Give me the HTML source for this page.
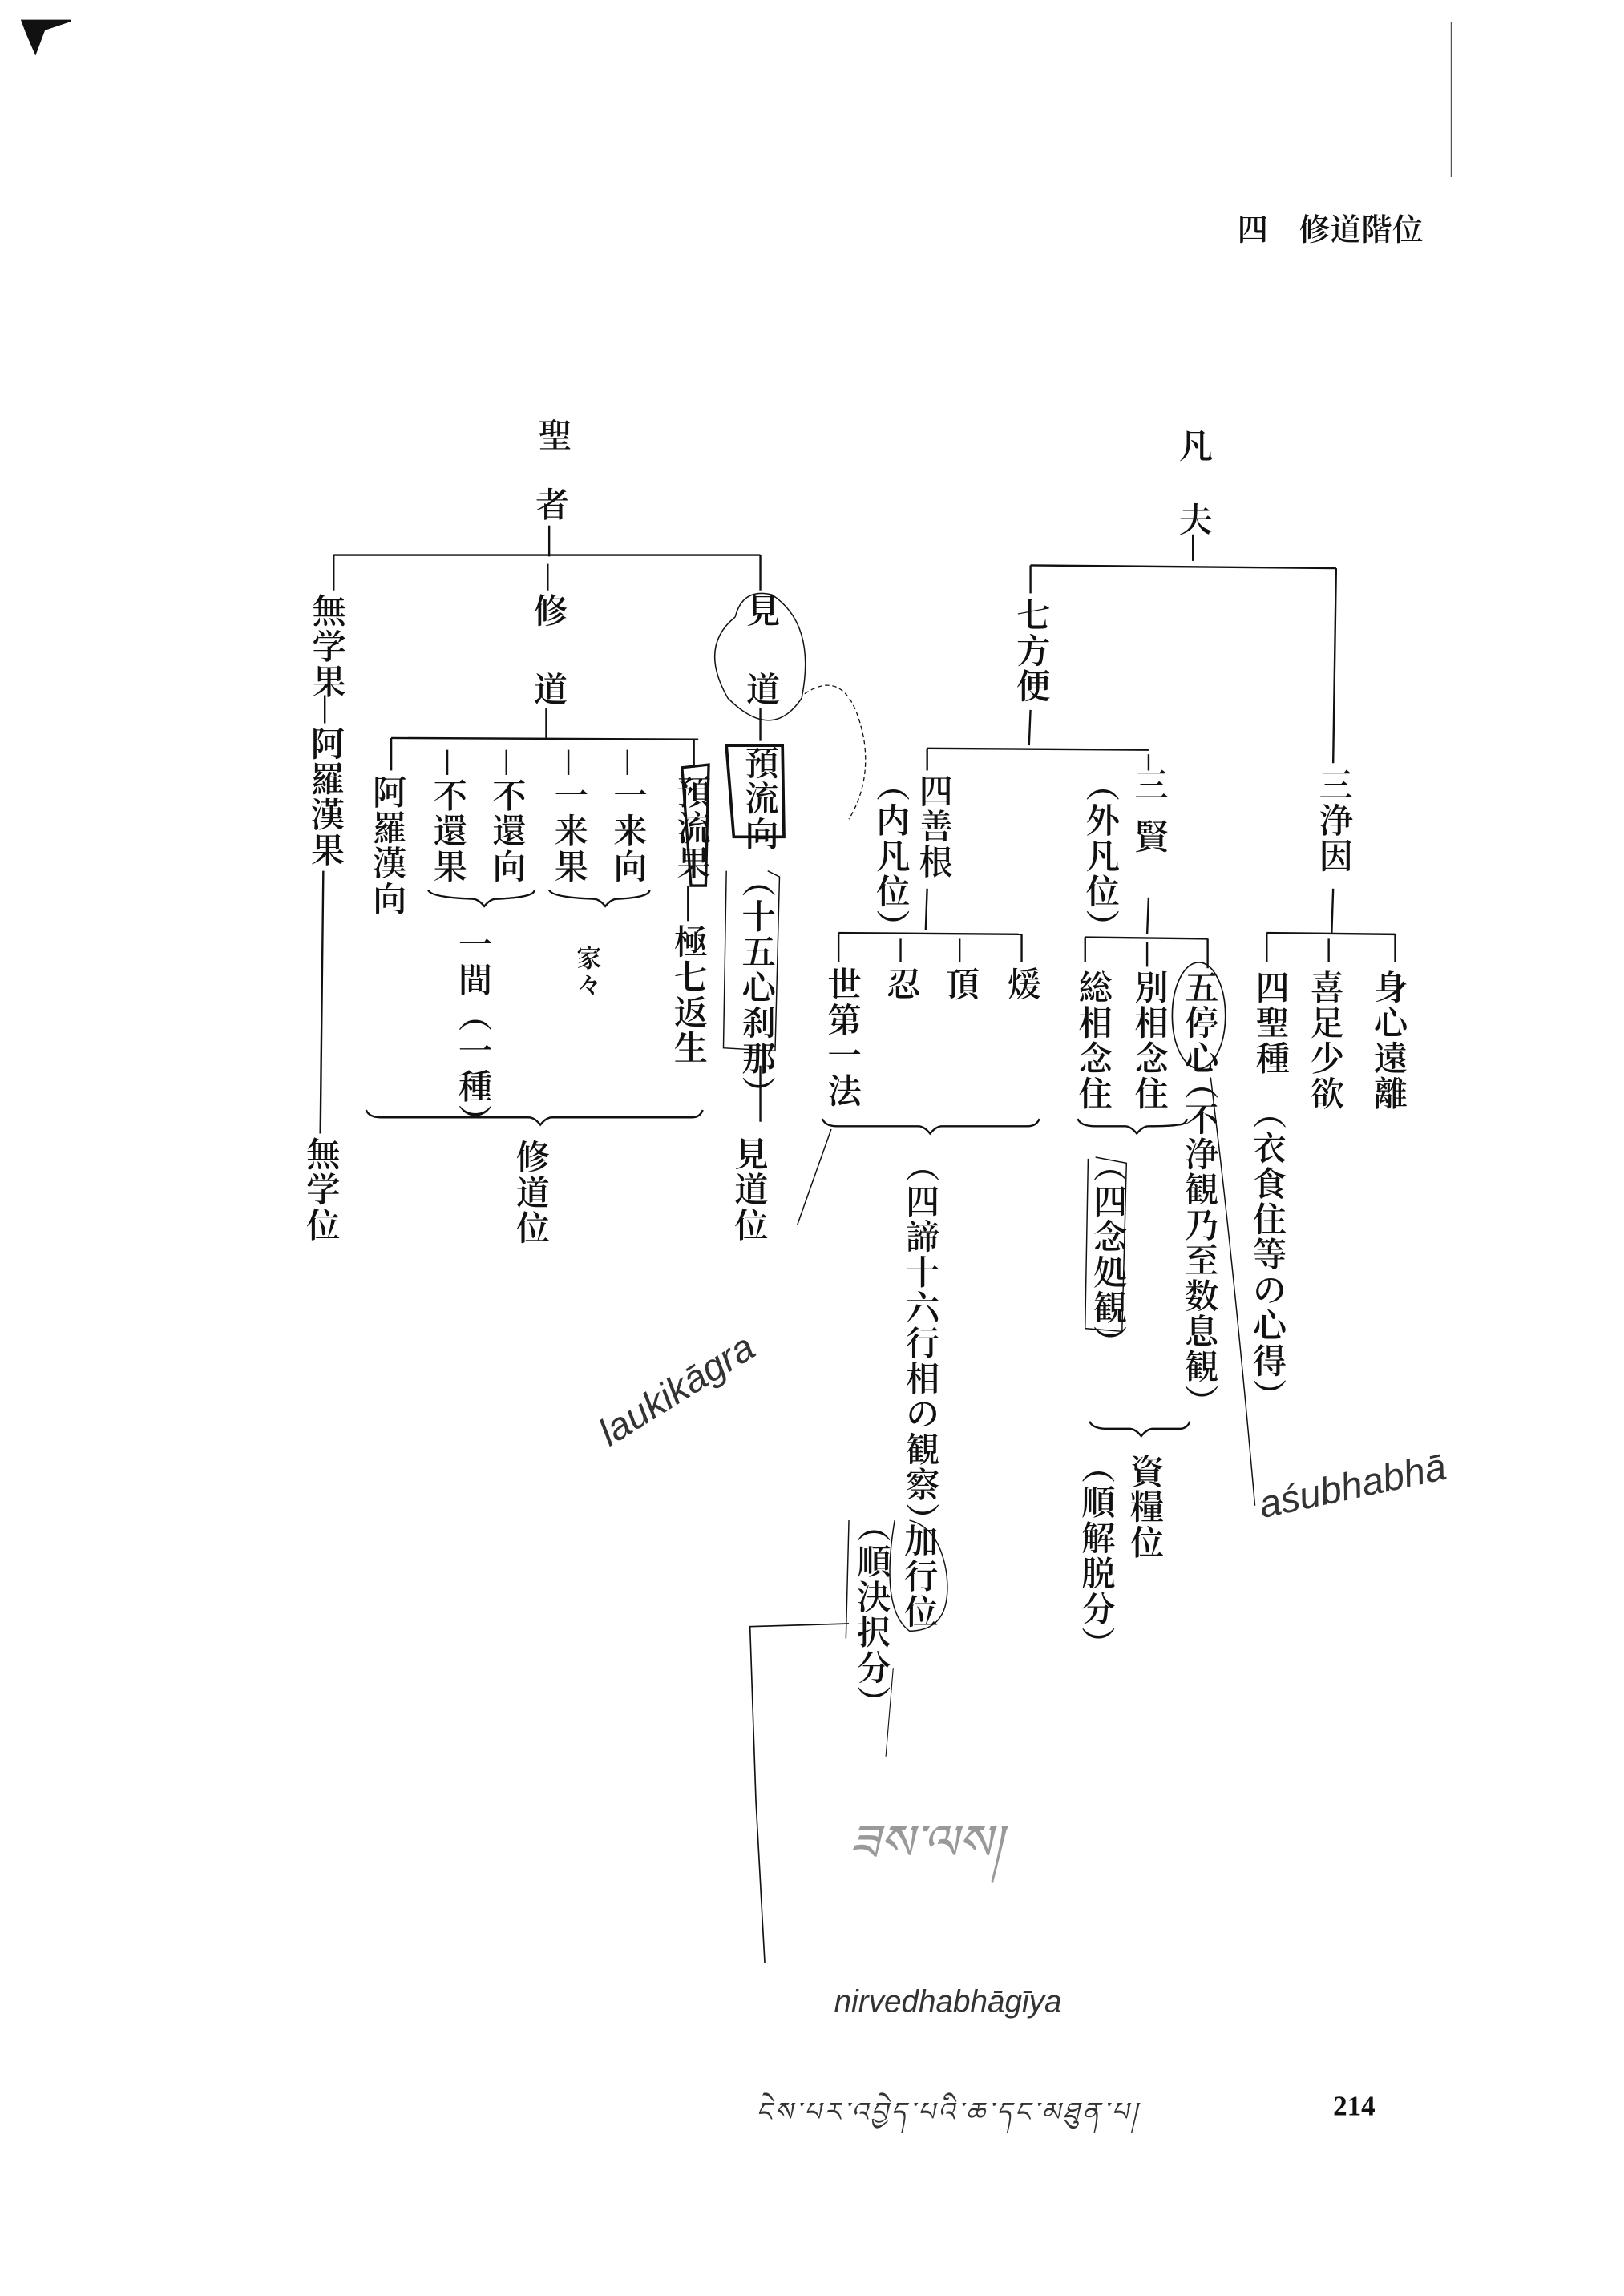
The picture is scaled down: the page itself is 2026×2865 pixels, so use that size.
<!DOCTYPE html>
<html><head><meta charset="utf-8"><style>
html,body{margin:0;padding:0;background:#fff;}
body{width:2026px;height:2865px;overflow:hidden;position:relative;}
#s{position:absolute;left:0;top:0;width:1100px;height:1555px;transform:scale(1.84182);transform-origin:0 0;font-family:"Liberation Serif","Noto Serif CJK SC",serif;color:#111;}
.v{position:absolute;writing-mode:vertical-rl;font-size:23px;line-height:1;letter-spacing:1px;transform:translateX(-50%);white-space:nowrap;font-weight:600;}
.h{position:absolute;font-size:21px;line-height:1;white-space:nowrap;font-weight:600;}
.w{position:absolute;font-family:"Liberation Sans",sans-serif;font-style:italic;color:#333;white-space:nowrap;font-weight:300;}
svg{position:absolute;left:0;top:0;}
</style></head><body><div id="s">
<svg width="1100" height="1555" viewBox="0 0 1100 1555" fill="none" stroke="#111" stroke-width="1.3">
<path d="M15 14 L48 14 L30 20 L24 36 L18 22 Z" fill="#111"/>
<line x1="983" y1="15" x2="983" y2="120" stroke-width="0.8" stroke="#555"/>
<line x1="372" y1="356" x2="372" y2="377"/>
<line x1="226" y1="376" x2="515" y2="376"/>
<line x1="226" y1="376" x2="226" y2="400"/>
<line x1="371" y1="382" x2="371" y2="400"/>
<line x1="515" y1="376" x2="515" y2="400"/>
<line x1="220" y1="471" x2="220" y2="490"/>
<line x1="219" y1="590" x2="217" y2="768"/>
<line x1="370" y1="480" x2="370" y2="500"/>
<line x1="265" y1="500" x2="473" y2="501"/>
<line x1="265" y1="500" x2="265" y2="522"/>
<line x1="303" y1="508" x2="303" y2="525"/>
<line x1="343" y1="508" x2="343" y2="525"/>
<line x1="385" y1="508" x2="385" y2="525"/>
<line x1="425" y1="508" x2="425" y2="525"/>
<line x1="470" y1="501" x2="470" y2="520"/>
<path d="M290 603 q2 5 30 6 q4 0 8 5 q4 -5 8 -5 q26 -1 26 -6"/>
<path d="M372 603 q2 5 30 6 q4 0 8 5 q4 -5 8 -5 q22 -1 22 -6"/>
<line x1="466" y1="600" x2="466" y2="624"/>
<path d="M248 752 q2 5 10 5 q90 0 100 0 q4 0 8 5 q4 -5 8 -5 q90 0 95 0 q5 0 7 -5"/>
<line x1="515" y1="480" x2="515" y2="502"/>
<path d="M492 505 L530 505 L531 567 L497 567 Z" stroke-width="2"/>
<path d="M462 520 L480 518 L478 600 L468 600 Z" stroke-width="1.8"/>
<path d="M498 418 q-25 20 -5 55 q30 30 50 0 q10 -50 -20 -70 q-20 -5 -25 15" stroke-width="0.8"/>
<path d="M545 470 q30 -20 40 30 q5 30 -10 55" stroke-width="0.7" stroke-dasharray="3 2"/>
<path d="M492 590 L490 710 L525 712 L528 594 L520 590" stroke-width="0.8"/>
<line x1="515" y1="722" x2="515" y2="760"/>
<line x1="808" y1="362" x2="808" y2="380"/>
<line x1="698" y1="383" x2="905" y2="385"/>
<line x1="698" y1="383" x2="698" y2="402"/>
<line x1="698" y1="481" x2="697" y2="505"/>
<line x1="628" y1="507" x2="778" y2="508"/>
<line x1="628" y1="507" x2="628" y2="522"/>
<line x1="778" y1="511" x2="778" y2="522"/>
<line x1="628" y1="602" x2="627" y2="630"/>
<line x1="568" y1="632" x2="692" y2="633"/>
<line x1="568" y1="632" x2="568" y2="652"/>
<line x1="610" y1="636" x2="610" y2="652"/>
<line x1="650" y1="636" x2="650" y2="652"/>
<line x1="692" y1="633" x2="692" y2="652"/>
<line x1="778" y1="608" x2="777" y2="633"/>
<line x1="735" y1="635" x2="818" y2="636"/>
<line x1="735" y1="635" x2="735" y2="652"/>
<line x1="777" y1="638" x2="777" y2="655"/>
<line x1="818" y1="636" x2="818" y2="656"/>
<line x1="905" y1="385" x2="903" y2="517"/>
<line x1="903" y1="602" x2="902" y2="632"/>
<line x1="858" y1="632" x2="945" y2="633"/>
<line x1="858" y1="632" x2="858" y2="652"/>
<line x1="900" y1="636" x2="900" y2="652"/>
<line x1="945" y1="633" x2="945" y2="652"/>
<path d="M557 758 q2 5 10 5 q50 0 55 0 q4 0 8 5 q4 -5 8 -5 q50 0 58 0 q6 0 8 -5"/>
<path d="M730 758 q2 5 12 5 q15 0 20 0 q4 0 8 5 q4 -5 8 -5 q15 0 20 -1 q5 0 6 -4"/>
<path d="M738 963 q2 5 12 5 q10 0 15 0 q4 0 8 5 q4 -5 8 -5 q12 0 18 0 q5 0 7 -5"/>
<ellipse cx="812" cy="688" rx="18" ry="36" stroke-width="0.9"/>
<path d="M737 785 L735 900 L760 902 L763 788 L742 784" stroke-width="0.8"/>
<path d="M820 730 q15 120 30 290" stroke-width="0.8"/>
<path d="M606 1030 q-10 60 10 75 q30 0 25 -40 q-5 -30 -25 -35" stroke-width="0.8"/>
<path d="M575 1030 L573 1110" stroke-width="0.8"/>
<path d="M563 765 L540 830" stroke-width="0.8"/>
<path d="M575 1100 L508 1102 L512 1220 L518 1330" stroke-width="0.9"/>
<path d="M605 1130 L600 1190" stroke-width="0.6"/>
</svg>
<div class="h" style="left:838px;top:146px;">四　修道階位</div>
<div class="v" style="left:374px;top:283px;">聖</div>
<div class="v" style="left:372px;top:330px;">者</div>
<div class="v" style="left:221px;top:402px;">無学果</div>
<div class="v" style="left:220px;top:492px;">阿羅漢果</div>
<div class="v" style="left:217px;top:770px;">無学位</div>
<div class="v" style="left:371px;top:402px;">修</div>
<div class="v" style="left:371px;top:455px;">道</div>
<div class="v" style="left:262px;top:525px;">阿羅漢向</div>
<div class="v" style="left:303px;top:527px;">不還果</div>
<div class="v" style="left:343px;top:527px;">不還向</div>
<div class="v" style="left:385px;top:527px;">一来果</div>
<div class="v" style="left:425px;top:527px;">一来向</div>
<div class="v" style="left:468px;top:525px;">預流果</div>
<div class="v" style="left:320px;top:628px;">一間（一種）</div>
<div class="v" style="left:397px;top:640px;font-size:17px;">家々</div>
<div class="v" style="left:466px;top:626px;">極七返生</div>
<div class="v" style="left:359px;top:772px;">修道位</div>
<div class="v" style="left:515px;top:402px;">見</div>
<div class="v" style="left:515px;top:455px;">道</div>
<div class="v" style="left:514px;top:505px;">預流向</div>
<div class="v" style="left:512px;top:585px;">（十五心刹那）</div>
<div class="v" style="left:507px;top:770px;">見道位</div>
<div class="v" style="left:808px;top:290px;">凡</div>
<div class="v" style="left:808px;top:340px;">夫</div>
<div class="v" style="left:698px;top:405px;">七方便</div>
<div class="v" style="left:632px;top:524px;">四善根</div>
<div class="v" style="left:603px;top:520px;">（内凡位）</div>
<div class="v" style="left:778px;top:520px;letter-spacing:12px;">三賢</div>
<div class="v" style="left:745px;top:520px;">（外凡位）</div>
<div class="v" style="left:570px;top:655px;">世第一法</div>
<div class="v" style="left:610px;top:655px;">忍</div>
<div class="v" style="left:650px;top:655px;">頂</div>
<div class="v" style="left:692px;top:655px;">煖</div>
<div class="v" style="left:740px;top:657px;">総相念住</div>
<div class="v" style="left:778px;top:657px;">別相念住</div>
<div class="v" style="left:812px;top:657px;">五停心</div>
<div class="v" style="left:812px;top:722px;">（不浄観乃至数息観）</div>
<div class="v" style="left:903px;top:520px;">三浄因</div>
<div class="v" style="left:860px;top:657px;">四聖種</div>
<div class="v" style="left:858px;top:742px;">（衣食住等の心得）</div>
<div class="v" style="left:897px;top:657px;">喜足少欲</div>
<div class="v" style="left:940px;top:657px;">身心遠離</div>
<div class="v" style="left:623px;top:778px;">（四諦十六行相の観察）</div>
<div class="v" style="left:622px;top:1032px;">加行位</div>
<div class="v" style="left:590px;top:1022px;">（順決択分）</div>
<div class="v" style="left:750px;top:778px;">（四念処観）</div>
<div class="v" style="left:775px;top:985px;">資糧位</div>
<div class="v" style="left:742px;top:982px;">（順解脱分）</div>
<div class="w" style="left:400px;top:960px;font-size:26px;transform:rotate(-32deg);transform-origin:0 0;">laukikāgra</div>
<div class="w" style="left:850px;top:1005px;font-size:26px;transform:rotate(-12deg);transform-origin:0 0;">aśubhabhā</div>
<div class="w" style="left:565px;top:1345px;font-size:21px;">nirvedhabhāgīya</div>
<div class="w" style="left:575px;top:1210px;font-size:34px;color:#999;">ཟས་ལས།</div>
<div class="w" style="left:512px;top:1412px;font-size:18px;letter-spacing:2px;">ངེས་པར་འབྱེད་པའི་ཆ་དང་མཐུན་པ།</div>
<div class="h" style="left:903px;top:1418px;font-size:19px;">214</div>
</div></body></html>
